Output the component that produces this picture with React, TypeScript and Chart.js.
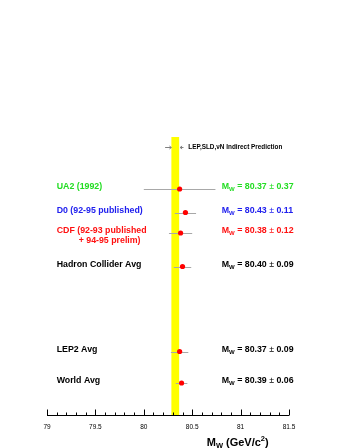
import { useEffect, useRef } from 'react';
import { Chart, registerables } from 'chart.js';
Chart.register(...registerables);

const experiments = ['UA2 (1992)', 'D0 (92-95 published)', 'CDF (92-93 published', 'Hadron Collider Avg', 'LEP2 Avg', 'World Avg'];
const secondLines = ['', '', '+ 94-95 prelim)', '', '', ''];
const massValues = [80.37, 80.43, 80.38, 80.40, 80.37, 80.39];
const massErrors = [0.37, 0.11, 0.12, 0.09, 0.09, 0.06];
const rowPositions = [5.2, 7.55, 9.6, 12.95, 21.45, 24.6];
const labelColors = ['#22dd22', '#2020ee', '#ff1010', '#000000', '#000000', '#000000'];
const predictionBand = [80.285, 80.365];
const predictionArrows = [80.22, 80.41];
const predictionRow = 1.0;
const predictionLabel = 'LEP,SLD,νN Indirect Prediction';
const majorTicks = [79, 79.5, 80, 80.5, 81, 81.5];
const tickLabels = ['79', '79.5', '80', '80.5', '81', '81.5'];
const minorStep = 0.1;
const xMin = 79;
const xMax = 81.5;

const FONT = '"Liberation Sans", Arial, Helvetica, sans-serif';

const overlay = {
  id: 'overlay',
  beforeDatasetsDraw(chart: any) {
    const { ctx, chartArea, scales } = chart;
    const xs = scales.x;
    const ys = scales.y;
    ctx.save();
    const bx0 = xs.getPixelForValue(predictionBand[0]);
    const bx1 = xs.getPixelForValue(predictionBand[1]);
    ctx.fillStyle = '#ffff00';
    ctx.fillRect(bx0, chartArea.top, bx1 - bx0, chartArea.bottom - chartArea.top);
    ctx.strokeStyle = '#a8a8a8';
    ctx.lineWidth = 1;
    massValues.forEach((v, i) => {
      const y = Math.round(ys.getPixelForValue(rowPositions[i])) + 0.5;
      ctx.beginPath();
      ctx.moveTo(xs.getPixelForValue(v - massErrors[i]), y);
      ctx.lineTo(xs.getPixelForValue(v + massErrors[i]), y);
      ctx.stroke();
    });
    const py = Math.round(ys.getPixelForValue(predictionRow)) + 0.5;
    const drawArrow = (from: number, to: number) => {
      const fx = xs.getPixelForValue(from);
      const tx = xs.getPixelForValue(to);
      const dir = tx > fx ? 1 : -1;
      ctx.beginPath();
      ctx.moveTo(fx, py);
      ctx.lineTo(tx, py);
      ctx.moveTo(tx - dir * 2, py - 1.5);
      ctx.lineTo(tx, py);
      ctx.lineTo(tx - dir * 2, py + 1.5);
      ctx.stroke();
    };
    ctx.strokeStyle = '#808080';
    drawArrow(predictionArrows[0], predictionBand[0]);
    drawArrow(predictionArrows[1], predictionBand[1] + 0.01);
    ctx.restore();
  },
  afterDatasetsDraw(chart: any) {
    const { ctx, chartArea, scales } = chart;
    const xs = scales.x;
    const ys = scales.y;
    ctx.save();
    ctx.textBaseline = 'middle';
    ctx.fillStyle = '#000';
    ctx.font = `bold 6.4px ${FONT}`;
    ctx.textAlign = 'left';
    ctx.fillText(predictionLabel, xs.getPixelForValue(80.46), ys.getPixelForValue(predictionRow));
    const leftX = xs.getPixelForValue(79.1);
    const rightX = xs.getPixelForValue(80.805);
    experiments.forEach((name, i) => {
      const y = ys.getPixelForValue(rowPositions[i]) - 2;
      ctx.fillStyle = labelColors[i];
      ctx.font = `bold 8.8px ${FONT}`;
      ctx.textAlign = 'left';
      ctx.fillText(name, leftX, y);
      if (secondLines[i]) {
        ctx.fillText(secondLines[i], leftX + 22, y + 10);
      }
      let x = rightX;
      ctx.fillText('M', x, y);
      x += ctx.measureText('M').width;
      ctx.font = `bold 6px ${FONT}`;
      ctx.fillText('W', x, y + 2.5);
      x += ctx.measureText('W').width;
      ctx.font = `bold 8.8px ${FONT}`;
      const s1 = ` = ${massValues[i].toFixed(2)} `;
      ctx.fillText(s1, x, y);
      x += ctx.measureText(s1).width;
      ctx.font = `8.8px ${FONT}`;
      ctx.fillText('±', x, y);
      x += ctx.measureText('±').width;
      ctx.font = `bold 8.8px ${FONT}`;
      ctx.fillText(` ${massErrors[i].toFixed(2)}`, x, y);
    });
    const ay = Math.round(chartArea.bottom) + 0.5;
    ctx.strokeStyle = '#000';
    ctx.lineWidth = 1;
    ctx.beginPath();
    ctx.moveTo(xs.getPixelForValue(xMin), ay);
    ctx.lineTo(xs.getPixelForValue(xMax), ay);
    const nMinor = Math.round((xMax - xMin) / minorStep);
    for (let k = 0; k <= nMinor; k++) {
      const v = xMin + k * minorStep;
      const isMajor = k % 5 === 0;
      const px = Math.round(xs.getPixelForValue(v)) + 0.5;
      ctx.moveTo(px, ay);
      ctx.lineTo(px, ay - (isMajor ? 6 : 3));
    }
    ctx.stroke();
    ctx.fillStyle = '#000';
    ctx.font = `6.5px ${FONT}`;
    ctx.textAlign = 'center';
    majorTicks.forEach((v, i) => {
      ctx.fillText(tickLabels[i], xs.getPixelForValue(v), ay + 12);
    });
    ctx.textAlign = 'left';
    const ty = ay + 27.5;
    let tx = xs.getPixelForValue(80.65);
    ctx.font = `bold 11px ${FONT}`;
    ctx.fillText('M', tx, ty);
    tx += ctx.measureText('M').width;
    ctx.font = `bold 7.5px ${FONT}`;
    ctx.fillText('W', tx, ty + 3);
    tx += ctx.measureText('W').width;
    ctx.font = `bold 11px ${FONT}`;
    ctx.fillText(' (GeV/c', tx, ty);
    tx += ctx.measureText(' (GeV/c').width;
    ctx.font = `bold 7.5px ${FONT}`;
    ctx.fillText('2', tx, ty - 4);
    tx += ctx.measureText('2').width;
    ctx.font = `bold 11px ${FONT}`;
    ctx.fillText(')', tx, ty);
    ctx.restore();
  },
};

export default function App() {
  const ref = useRef<HTMLCanvasElement>(null);
  useEffect(() => {
    if (!ref.current) return;
    const chart = new Chart(ref.current, {
      type: 'scatter',
      data: {
        datasets: [
          {
            data: massValues.map((v, i) => ({ x: v, y: rowPositions[i] })),
            backgroundColor: '#ff0000',
            borderWidth: 0,
            pointRadius: 2.6,
          },
        ],
      },
      options: {
        animation: false,
        responsive: true,
        maintainAspectRatio: false,
        layout: { padding: { left: 47, right: 57, top: 137, bottom: 33 } },
        scales: {
          x: { type: 'linear', min: xMin, max: xMax, display: false },
          y: { type: 'linear', min: 0, max: 27.8, reverse: true, display: false },
        },
        plugins: { legend: { display: false }, tooltip: { enabled: false } },
      },
      plugins: [overlay],
    });
    return () => chart.destroy();
  }, []);
  return (
    <div style={{ position: 'absolute', left: 0, top: 0, width: 346, height: 448, background: '#fff' }}>
      <canvas ref={ref} />
    </div>
  );
}
